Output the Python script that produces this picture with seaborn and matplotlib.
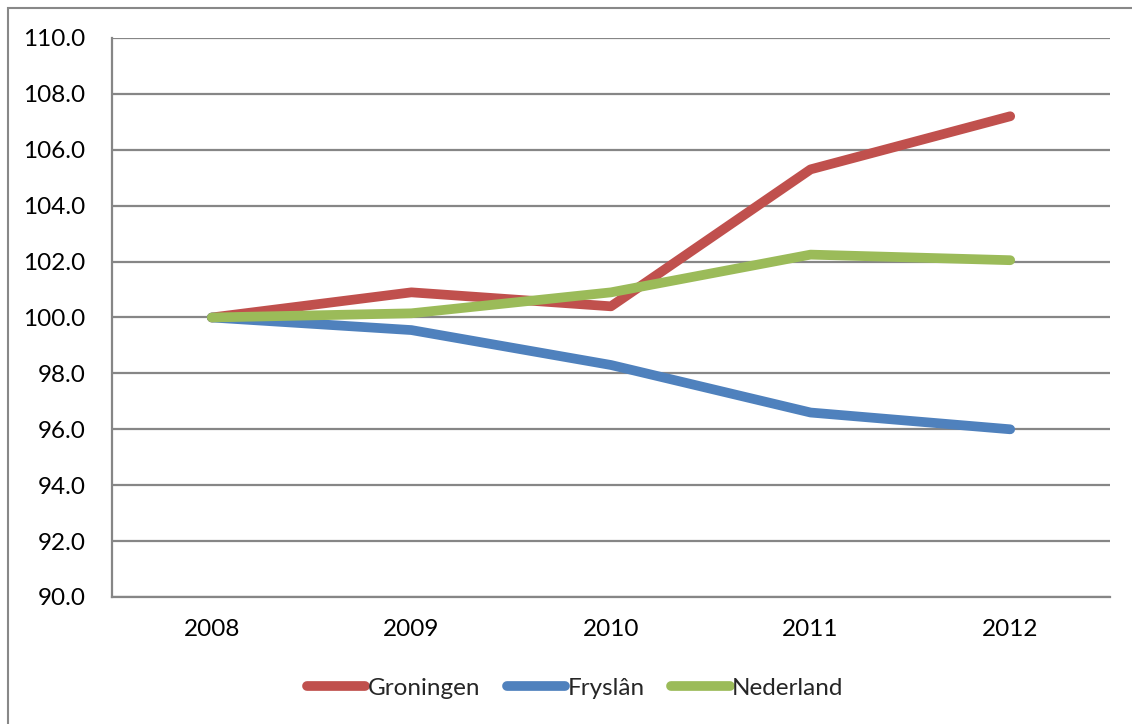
import matplotlib
matplotlib.use("Agg")
import matplotlib.pyplot as plt
import pandas as pd
import seaborn as sns
from matplotlib.patches import Rectangle

years = ["2008", "2009", "2010", "2011", "2012"]
groningen = [100.0, 100.9, 100.4, 105.3, 107.2]
fryslan = [100.0, 99.55, 98.3, 96.6, 96.0]
nederland = [100.0, 100.15, 100.9, 102.25, 102.05]

series_names = ["Groningen", "Fryslân", "Nederland"]
colors = ["#C0504D", "#4F81BD", "#9BBB59"]
y_ticks = [90.0, 92.0, 94.0, 96.0, 98.0, 100.0, 102.0, 104.0, 106.0, 108.0, 110.0]

frames = []
for name, values in zip(series_names, [groningen, fryslan, nederland]):
    frames.append(pd.DataFrame({"jaar": years, "index": values, "regio": name}))
df = pd.concat(frames, ignore_index=True)

sns.set_theme(style="white")
plt.rcParams["font.family"] = ["Lato", "DejaVu Sans"]

fig = plt.figure(figsize=(11.32, 7.24), dpi=100)
W, H = 1132, 724
ax = fig.add_axes([112 / W, 1 - 597 / H, (1110 - 112) / W, (597 - 38) / H])

# outer chart border
fig.patches.append(
    Rectangle((8 / W, -0.1), 1.2, 1 - 8 / H + 0.1, transform=fig.transFigure,
              fill=False, edgecolor="#888888", linewidth=1.5, zorder=0)
)

sns.lineplot(
    data=df, x="jaar", y="index", hue="regio", hue_order=series_names,
    palette=colors, linewidth=7, sort=False, ax=ax,
    solid_capstyle="round", solid_joinstyle="round",
)

ax.set_xlim(-0.5, 4.5)
ax.set_ylim(90, 110)
ax.set_yticks(y_ticks)
ax.set_yticklabels([f"{t:.1f}" for t in y_ticks])
ax.yaxis.grid(True, color="#868686", linewidth=1.6)
ax.set_axisbelow(True)
ax.tick_params(axis="both", length=0, labelsize=17.5, colors="black")
ax.tick_params(axis="y", pad=19)
ax.tick_params(axis="x", pad=16)
ax.set_xlabel("")
ax.set_ylabel("")
for side in ["top", "right"]:
    ax.spines[side].set_visible(False)
for side in ["left", "bottom"]:
    ax.spines[side].set_color("#868686")
    ax.spines[side].set_linewidth(1.6)

handles, labels = ax.get_legend_handles_labels()
ax.legend(
    handles, labels, loc="center", bbox_to_anchor=(575 / W, 1 - 688 / H),
    bbox_transform=fig.transFigure, ncol=3, frameon=False, fontsize=17.5,
    handlelength=2.4, handletextpad=0.1, columnspacing=1.1,
)

fig.savefig("out.png", dpi=100)
